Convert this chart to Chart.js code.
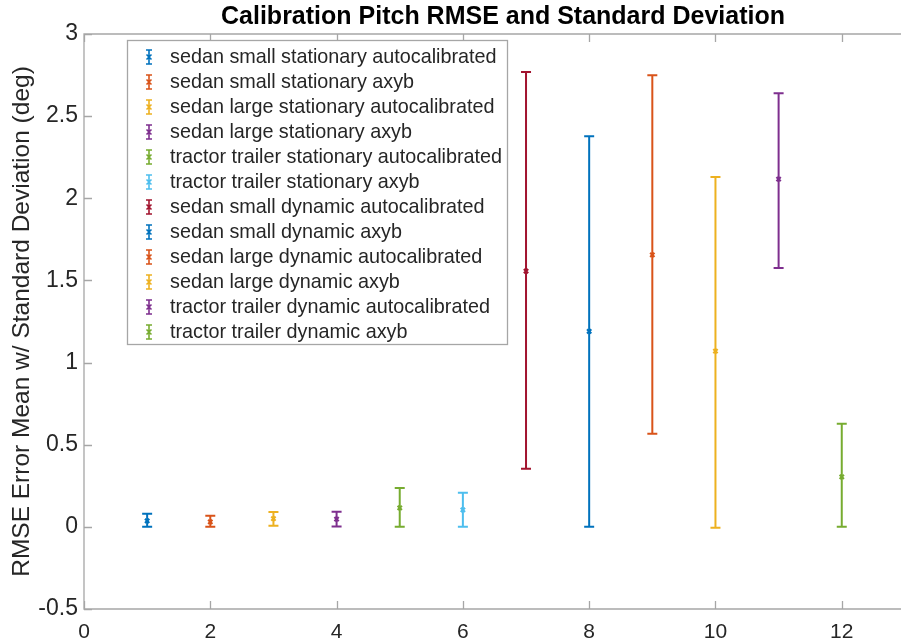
<!DOCTYPE html>
<html>
<head>
<meta charset="utf-8">
<script src="https://cdn.jsdelivr.net/npm/chart.js@4.4.1/dist/chart.umd.min.js"></script>
<style>
  body { margin: 0; background: #fff; }
  #wrap { width: 901px; height: 644px; }
</style>
</head>
<body>
<div id="wrap"><canvas id="chart" width="901" height="644"></canvas></div>
<script>
// series labels, one point per series
const seriesLabels = [
  'sedan small stationary autocalibrated',
  'sedan small stationary axyb',
  'sedan large stationary autocalibrated',
  'sedan large stationary axyb',
  'tractor trailer stationary autocalibrated',
  'tractor trailer stationary axyb',
  'sedan small dynamic autocalibrated',
  'sedan small dynamic axyb',
  'sedan large dynamic autocalibrated',
  'sedan large dynamic axyb',
  'tractor trailer dynamic autocalibrated',
  'tractor trailer dynamic axyb'
];
const xValues = [1, 2, 3, 4, 5, 6, 7, 8, 9, 10, 11, 12];
const meanValues = [0.036, 0.030, 0.050, 0.047, 0.115, 0.103, 1.557, 1.19, 1.655, 1.07, 2.117, 0.304];
const lowValues  = [0.0, 0.0, 0.006, 0.002, 0.0, 0.0, 0.353, 0.0, 0.566, -0.005, 1.575, 0.0];
const highValues = [0.080, 0.067, 0.091, 0.092, 0.237, 0.207, 2.768, 2.378, 2.749, 2.129, 2.640, 0.627];
const yTicks = [-0.5, 0, 0.5, 1, 1.5, 2, 2.5, 3];
const xTicks = [0, 2, 4, 6, 8, 10, 12];
const chartTitle = 'Calibration Pitch RMSE and Standard Deviation';

// matlab default line colours
const matlabColors = ['#0072BD', '#D95319', '#EDB120', '#7E2F8E', '#77AC30', '#4DBEEE', '#A2142F'];
const axisColor = '#a6a6a6';
const textColor = '#262626';
const fontFamily = '"Liberation Sans", Arial, Helvetica, sans-serif';

const datasets = seriesLabels.map((label, i) => ({
  label: label,
  data: [{ x: xValues[i], y: meanValues[i] }],
  borderColor: matlabColors[i % matlabColors.length],
  backgroundColor: matlabColors[i % matlabColors.length],
  pointStyle: 'crossRot',
  pointRadius: 3,
  pointBorderWidth: 2.2,
  showLine: false,
  low: lowValues[i],
  high: highValues[i]
}));

// vertical error bars with caps, drawn under the markers
const errorBars = {
  id: 'errorBars',
  beforeDatasetsDraw(chart) {
    const { ctx, scales: { x, y } } = chart;
    ctx.save();
    chart.data.datasets.forEach(ds => {
      const px = x.getPixelForValue(ds.data[0].x);
      const yl = y.getPixelForValue(ds.low);
      const yh = y.getPixelForValue(ds.high);
      ctx.strokeStyle = ds.borderColor;
      ctx.lineWidth = 2;
      ctx.beginPath();
      ctx.moveTo(px, yl); ctx.lineTo(px, yh);
      ctx.moveTo(px - 5, yl); ctx.lineTo(px + 5, yl);
      ctx.moveTo(px - 5, yh); ctx.lineTo(px + 5, yh);
      ctx.stroke();
    });
    ctx.restore();
  }
};

// matlab style box (right side falls off the figure) with inward ticks, plus title
const axesBox = {
  id: 'axesBox',
  beforeDatasetsDraw(chart) {
    const { ctx, chartArea: a, scales: { x, y } } = chart;
    const edge = chart.width + 2;
    ctx.save();
    ctx.strokeStyle = axisColor;
    ctx.lineWidth = 1.3;
    ctx.beginPath();
    ctx.moveTo(edge, a.top); ctx.lineTo(a.left, a.top);
    ctx.lineTo(a.left, a.bottom); ctx.lineTo(edge, a.bottom);
    xTicks.forEach(v => {
      const px = Math.round(x.getPixelForValue(v)) + 0.5;
      ctx.moveTo(px, a.bottom); ctx.lineTo(px, a.bottom - 8);
      ctx.moveTo(px, a.top); ctx.lineTo(px, a.top + 8);
    });
    yTicks.forEach(v => {
      const py = Math.round(y.getPixelForValue(v)) + 0.5;
      ctx.moveTo(a.left, py); ctx.lineTo(a.left + 8, py);
    });
    ctx.stroke();

    ctx.fillStyle = '#000000';
    ctx.font = 'bold 25px ' + fontFamily;
    ctx.textAlign = 'center';
    ctx.textBaseline = 'middle';
    ctx.fillText(chartTitle, 503, 17);
    ctx.restore();
  }
};

// legend box inside the axes, with errorbar icons
const boxLegend = {
  id: 'boxLegend',
  afterDatasetsDraw(chart) {
    const { ctx } = chart;
    const left = 127, top = 40, width = 380, height = 304;
    const rowStart = 57, rowGap = 25.0;
    ctx.save();
    ctx.fillStyle = '#ffffff';
    ctx.fillRect(left, top, width, height);
    ctx.strokeStyle = axisColor;
    ctx.lineWidth = 1.3;
    ctx.strokeRect(left + 0.5, top + 0.5, width, height);
    ctx.font = '19.8px ' + fontFamily;
    ctx.textBaseline = 'middle';
    chart.data.datasets.forEach((ds, i) => {
      const cy = rowStart + i * rowGap;
      const cx = 149;
      ctx.strokeStyle = ds.borderColor;
      ctx.lineWidth = 1.6;
      ctx.beginPath();
      ctx.moveTo(cx, cy - 7); ctx.lineTo(cx, cy + 7);
      ctx.moveTo(cx - 3, cy - 7); ctx.lineTo(cx + 3, cy - 7);
      ctx.moveTo(cx - 3, cy + 7); ctx.lineTo(cx + 3, cy + 7);
      ctx.moveTo(cx - 2.5, cy - 2.5); ctx.lineTo(cx + 2.5, cy + 2.5);
      ctx.moveTo(cx - 2.5, cy + 2.5); ctx.lineTo(cx + 2.5, cy - 2.5);
      ctx.stroke();
      ctx.fillStyle = textColor;
      ctx.fillText(ds.label, 170, cy + 1);
    });
    ctx.restore();
  }
};

new Chart(document.getElementById('chart'), {
  type: 'scatter',
  data: { datasets: datasets },
  plugins: [axesBox, errorBars, boxLegend],
  options: {
    responsive: false,
    animation: false,
    layout: { padding: { top: 34, right: 0, left: 0, bottom: 0 } },
    plugins: {
      legend: { display: false },
      tooltip: { enabled: false },
      title: { display: false }
    },
    scales: {
      x: {
        type: 'linear',
        min: 0,
        max: 12.84,
        afterBuildTicks: scale => { scale.ticks = xTicks.map(v => ({ value: v })); },
        afterFit: scale => { scale.height = 35; },
        grid: { display: false, drawTicks: false },
        border: { display: false },
        ticks: { color: textColor, padding: 11, font: { family: fontFamily, size: 21 } }
      },
      y: {
        type: 'linear',
        min: -0.5,
        max: 3,
        afterBuildTicks: scale => { scale.ticks = yTicks.map(v => ({ value: v })); },
        afterFit: scale => { scale.width = 84; },
        grid: { display: false, drawTicks: false },
        border: { display: false },
        ticks: {
          color: textColor,
          padding: 6,
          font: { family: fontFamily, size: 23 },
          callback: v => String(v)
        },
        title: {
          display: true,
          text: 'RMSE Error Mean w/ Standard Deviation (deg)',
          color: textColor,
          font: { family: fontFamily, size: 24.5 },
          padding: { top: 8, bottom: 0 }
        }
      }
    }
  }
});
</script>
</body>
</html>
